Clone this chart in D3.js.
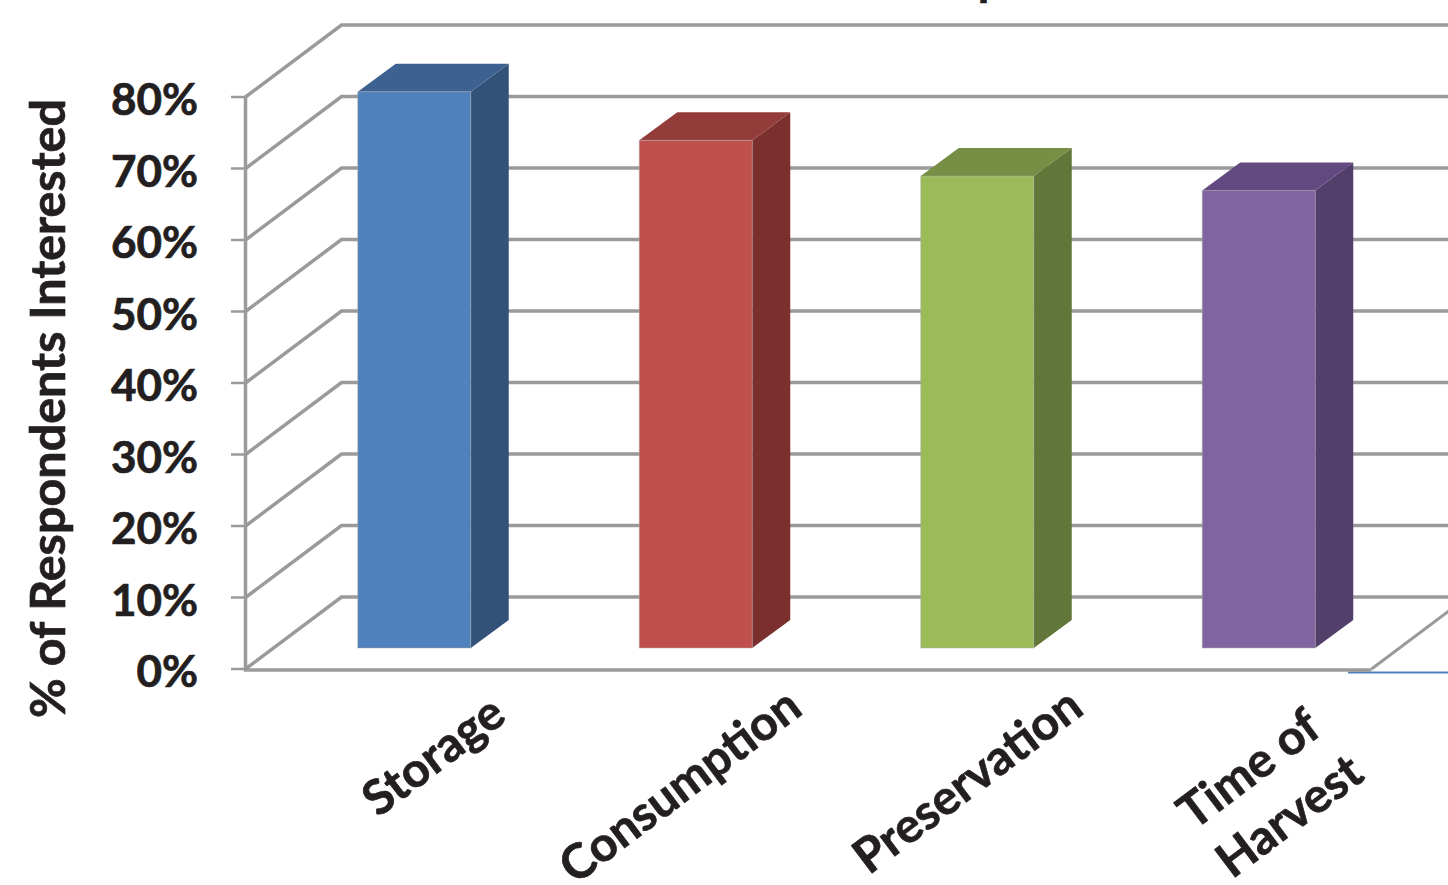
<!DOCTYPE html>
<html>
<head>
<meta charset="utf-8">
<script src="https://cdn.jsdelivr.net/npm/d3@7"></script>
<style>
  html, body { margin: 0; padding: 0; background: #fff; overflow: hidden; }
  text { font-family: Lato, "Open Sans", sans-serif; font-weight: 700; fill: #231f20; stroke: #231f20; stroke-width: 0.7px; }
</style>
</head>
<body>
<svg id="chart" width="1448" height="885"></svg>
<script>
// Interest by topic, drawn as a 3-D column chart with a perspective floor and wall.
const categories = ["Storage", "Consumption", "Preservation", "Time of|Harvest"];
const values = [77.8, 71, 66, 64];
const tickValues = [0, 10, 20, 30, 40, 50, 60, 70, 80];
const frontFaces = ["#4f81bd", "#c0504d", "#9bbb59", "#8064a2"];
const topFaces = ["#3d6292", "#943c3a", "#778f44", "#62497f"];
const sideFaces = ["#325279", "#7b302e", "#63763a", "#523f6a"];

const svg = d3.select("#chart");
const y = d3.scaleLinear().domain([0, 80]).range([669, 97]);
const x = d3.scaleBand().domain(categories).range([245.5, 1371.5]).paddingInner(0).paddingOuter(0);

const wall = { dx: 96, dy: -72 };    // offset of the back wall from the front plane
const bar = { dx: 28, dy: -21, width: 113, depthX: 38, depthY: -28 };
const gridColor = "#9a9a9a";
// Nudges for the rotated category labels, relative to each band's centre.
const labelShift = [[57, 769], [22, 799], [28, 794], [28, 782]];

// Grid lines: a diagonal along the side wall, then horizontal along the back wall.
const line = d3.line();
svg.append("g").selectAll("path").data(tickValues).join("path")
  .attr("d", t => line([[x.range()[0], y(t)], [x.range()[0] + wall.dx, y(t) + wall.dy], [1460, y(t) + wall.dy]]))
  .attr("fill", "none").attr("stroke", gridColor).attr("stroke-width", 3.5);

// Right-hand edge of the floor and the baseline beneath it.
svg.append("path")
  .attr("d", line([[x.range()[1], y(0)], [x.range()[1] + wall.dx, y(0) + wall.dy]]))
  .attr("fill", "none").attr("stroke", gridColor).attr("stroke-width", 3);
svg.append("path")
  .attr("d", line([[1348, 672.5], [1448, 672.5]]))
  .attr("fill", "none").attr("stroke", "#4f81bd").attr("stroke-width", 2);

// Value axis: vertical line, floor front edge and tick marks.
svg.append("path")
  .attr("d", line([[x.range()[0], y(80)], [x.range()[0], y(0) + 1], [x.range()[1], y(0) + 1]]))
  .attr("fill", "none").attr("stroke", gridColor).attr("stroke-width", 3.5);
svg.append("g").selectAll("path").data(tickValues).join("path")
  .attr("d", t => line([[231, y(t)], [x.range()[0], y(t)]]))
  .attr("stroke", gridColor).attr("stroke-width", 2.5);

// Columns: side, top and front faces.
const columns = svg.append("g").selectAll("g").data(categories).join("g");
const leftX = c => x(c) + x.bandwidth() / 2 + bar.dx - bar.width / 2;
const baseY = y(0) + bar.dy;
const topY = i => y(values[i]) + bar.dy;

columns.append("path")
  .attr("d", (c, i) => {
    const r = leftX(c) + bar.width;
    return line([[r, topY(i)], [r + bar.depthX, topY(i) + bar.depthY], [r + bar.depthX, baseY + bar.depthY], [r, baseY]]) + "Z";
  })
  .attr("fill", (c, i) => sideFaces[i]);
columns.append("path")
  .attr("d", (c, i) => {
    const l = leftX(c), r = l + bar.width;
    return line([[l, topY(i)], [l + bar.depthX, topY(i) + bar.depthY], [r + bar.depthX, topY(i) + bar.depthY], [r, topY(i)]]) + "Z";
  })
  .attr("fill", (c, i) => topFaces[i]);
columns.append("rect")
  .attr("x", c => leftX(c))
  .attr("y", (c, i) => topY(i))
  .attr("width", bar.width)
  .attr("height", (c, i) => baseY - topY(i))
  .attr("fill", (c, i) => frontFaces[i])
  .attr("stroke", "#a8a8a8").attr("stroke-width", 1).attr("stroke-opacity", 0.5);

// Value tick labels.
svg.append("g").selectAll("text").data(tickValues).join("text")
  .attr("x", 198).attr("y", t => y(t) + 18)
  .attr("text-anchor", "end").attr("font-size", 44)
  .text(t => t + "%");

// Rotated category labels, wrapped at the "|" marker.
const labelGroups = svg.append("g").selectAll("text").data(categories).join("text")
  .attr("text-anchor", "middle").attr("font-size", 48)
  .attr("transform", (c, i) => `translate(${x(c) + x.bandwidth() / 2 + labelShift[i][0]},${labelShift[i][1]}) rotate(-37)`);
labelGroups.selectAll("tspan").data(c => c.split("|")).join("tspan")
  .attr("x", (d, i) => i ? 4 : 0).attr("dy", (d, i) => i ? 62 : 0).text(d => d);

// Value axis title.
svg.append("text")
  .attr("text-anchor", "middle").attr("font-size", 48.5)
  .attr("transform", "translate(65,408.5) rotate(-90)")
  .text("% of Respondents Interested");

// Descender of the chart title, which runs off the top edge.
svg.append("text")
  .attr("x", 991).attr("y", -5.5)
  .attr("text-anchor", "middle").attr("font-size", 47)
  .text("p");
</script>
</body>
</html>
